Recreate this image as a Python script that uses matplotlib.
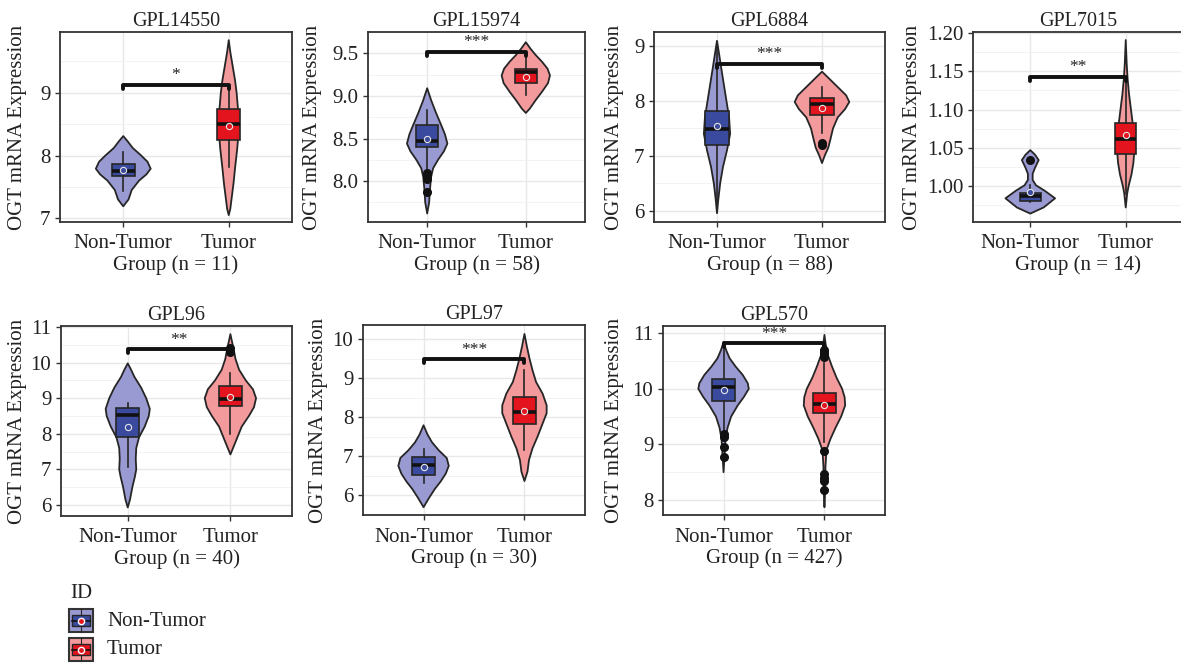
import numpy as np
import matplotlib.pyplot as plt
from matplotlib.patches import Rectangle
from matplotlib.ticker import AutoMinorLocator, FormatStrFormatter

plt.rcParams['font.family'] = ['Liberation Serif', 'DejaVu Serif']

W, H = 1181, 663

# ---------------- data ----------------
platforms = ["GPL14550", "GPL15974", "GPL6884", "GPL7015", "GPL96", "GPL97", "GPL570"]
sample_n = [11, 58, 88, 14, 40, 30, 427]
groups = ["Non-Tumor", "Tumor"]
signif = ["*", "***", "***", "**", "**", "***", "***"]
bracket_y = [9.13, 9.52, 8.67, 1.143, 10.37, 9.48, 10.82]

yticks = {
    "GPL14550": [7, 8, 9],
    "GPL15974": [8.0, 8.5, 9.0, 9.5],
    "GPL6884": [6, 7, 8, 9],
    "GPL7015": [1.00, 1.05, 1.10, 1.15, 1.20],
    "GPL96": [6, 7, 8, 9, 10, 11],
    "GPL97": [6, 7, 8, 9, 10],
    "GPL570": [8, 9, 10, 11],
}
yfmt = {"GPL15974": "%.1f", "GPL7015": "%.2f"}
ylims = {
    "GPL14550": (6.94, 9.97),
    "GPL15974": (7.52, 9.75),
    "GPL6884": (5.80, 9.25),
    "GPL7015": (0.953, 1.2015),
    "GPL96": (5.69, 11.03),
    "GPL97": (5.49, 10.36),
    "GPL570": (7.73, 11.13),
}

# violin outlines: expression levels and half widths (category units)
nt_violin_y = {
    "GPL14550": [7.19, 7.3, 7.45, 7.6, 7.7, 7.79, 7.9, 8.0, 8.12, 8.23, 8.31],
    "GPL15974": [7.62, 7.75, 7.9, 8.05, 8.15, 8.25, 8.35, 8.44, 8.55, 8.65, 8.8, 8.95, 9.09],
    "GPL6884": [5.96, 6.2, 6.5, 6.8, 7.1, 7.4, 7.7, 8.0, 8.3, 8.6, 8.85, 9.09],
    "GPL7015": [0.964, 0.972, 0.984, 0.994, 1.001, 1.008, 1.016, 1.024, 1.034, 1.041, 1.047],
    "GPL96": [5.93, 6.15, 6.5, 6.8, 7.0, 7.3, 7.6, 7.9, 8.2, 8.5, 8.7, 9.0, 9.3, 9.6, 9.8, 9.98],
    "GPL97": [5.69, 5.8, 5.95, 6.15, 6.35, 6.55, 6.75, 6.95, 7.15, 7.35, 7.55, 7.79],
    "GPL570": [8.5, 8.8, 9.1, 9.3, 9.5, 9.7, 9.85, 10.0, 10.1, 10.25, 10.4, 10.55, 10.7, 10.84],
}
nt_violin_w = {
    "GPL14550": [0, 0.05, 0.08, 0.15, 0.22, 0.26, 0.23, 0.17, 0.09, 0.04, 0],
    "GPL15974": [0, 0.02, 0.028, 0.04, 0.06, 0.11, 0.17, 0.205, 0.18, 0.145, 0.09, 0.04, 0],
    "GPL6884": [0, 0.012, 0.03, 0.057, 0.095, 0.125, 0.115, 0.09, 0.065, 0.04, 0.02, 0],
    "GPL7015": [0, 0.14, 0.26, 0.15, 0.06, 0.025, 0.025, 0.05, 0.088, 0.05, 0],
    "GPL96": [0, 0.022, 0.045, 0.07, 0.083, 0.078, 0.083, 0.11, 0.165, 0.205, 0.215, 0.18, 0.13, 0.065, 0.033, 0],
    "GPL97": [0, 0.025, 0.06, 0.11, 0.17, 0.22, 0.25, 0.23, 0.15, 0.085, 0.04, 0],
    "GPL570": [0, 0.01, 0.02, 0.04, 0.075, 0.14, 0.2, 0.25, 0.24, 0.19, 0.12, 0.06, 0.025, 0],
}
tu_violin_y = {
    "GPL14550": [7.05, 7.15, 7.35, 7.55, 7.8, 8.1, 8.4, 8.7, 9.0, 9.2, 9.45, 9.65, 9.84],
    "GPL15974": [8.80, 8.85, 8.95, 9.05, 9.15, 9.24, 9.32, 9.40, 9.48, 9.55, 9.63],
    "GPL6884": [6.87, 7.0, 7.15, 7.3, 7.5, 7.7, 7.85, 7.98, 8.1, 8.25, 8.4, 8.53],
    "GPL7015": [0.972, 0.99, 1.0, 1.015, 1.03, 1.045, 1.06, 1.075, 1.09, 1.105, 1.12, 1.14, 1.16, 1.191],
    "GPL96": [7.42, 7.7, 7.95, 8.2, 8.5, 8.75, 9.0, 9.25, 9.5, 9.8, 10.1, 10.4, 10.6, 10.8],
    "GPL97": [6.36, 6.6, 6.9, 7.2, 7.5, 7.8, 8.1, 8.3, 8.6, 8.9, 9.2, 9.5, 9.8, 10.13],
    "GPL570": [7.87, 8.2, 8.6, 8.9, 9.1, 9.3, 9.5, 9.7, 9.85, 10.0, 10.2, 10.4, 10.6, 10.8, 10.97],
}
tu_violin_w = {
    "GPL14550": [0, 0.015, 0.03, 0.045, 0.06, 0.08, 0.095, 0.09, 0.075, 0.06, 0.035, 0.015, 0],
    "GPL15974": [0, 0.04, 0.1, 0.165, 0.225, 0.245, 0.22, 0.165, 0.1, 0.05, 0],
    "GPL6884": [0, 0.025, 0.06, 0.08, 0.105, 0.15, 0.22, 0.26, 0.23, 0.15, 0.07, 0],
    "GPL7015": [0, 0.015, 0.03, 0.06, 0.08, 0.09, 0.09, 0.08, 0.065, 0.05, 0.035, 0.02, 0.01, 0],
    "GPL96": [0, 0.04, 0.075, 0.11, 0.18, 0.23, 0.25, 0.22, 0.15, 0.085, 0.05, 0.03, 0.015, 0],
    "GPL97": [0, 0.03, 0.045, 0.08, 0.13, 0.175, 0.22, 0.22, 0.18, 0.115, 0.08, 0.05, 0.025, 0],
    "GPL570": [0, 0.008, 0.01, 0.02, 0.06, 0.11, 0.165, 0.205, 0.2, 0.175, 0.12, 0.075, 0.035, 0.012, 0],
}

# box stats: q1, median, q3, whisker low, whisker high, mean
nt_box = {
    "GPL14550": [7.68, 7.76, 7.87, 7.44, 8.05, 7.77],
    "GPL15974": [8.40, 8.47, 8.66, 8.13, 8.83, 8.50],
    "GPL6884": [7.19, 7.49, 7.82, 5.98, 9.07, 7.54],
    "GPL7015": [0.981, 0.987, 0.9906, 0.979, 1.001, 0.992],
    "GPL96": [7.90, 8.52, 8.72, 7.06, 8.87, 8.20],
    "GPL97": [6.51, 6.77, 6.98, 6.30, 7.18, 6.72],
    "GPL570": [9.78, 10.03, 10.17, 9.25, 10.75, 9.97],
}
tu_box = {
    "GPL14550": [8.24, 8.50, 8.74, 7.82, 9.12, 8.47],
    "GPL15974": [9.15, 9.28, 9.32, 9.01, 9.50, 9.22],
    "GPL6884": [7.75, 7.94, 8.06, 7.41, 8.25, 7.87],
    "GPL7015": [1.042, 1.062, 1.082, 0.99, 1.14, 1.067],
    "GPL96": [8.77, 8.97, 9.34, 8.00, 9.70, 9.03],
    "GPL97": [7.82, 8.13, 8.52, 7.15, 9.20, 8.16],
    "GPL570": [9.56, 9.72, 9.93, 9.04, 10.46, 9.71],
}
nt_fliers = {
    "GPL14550": [], "GPL15974": [8.10, 8.06, 8.02, 7.87], "GPL6884": [],
    "GPL7015": [1.034], "GPL96": [], "GPL97": [],
    "GPL570": [9.18, 9.14, 8.96, 8.77],
}
tu_fliers = {
    "GPL14550": [], "GPL15974": [], "GPL6884": [7.23, 7.20],
    "GPL7015": [], "GPL96": [10.29, 10.4], "GPL97": [],
    "GPL570": [10.58, 10.62, 10.66, 10.70, 8.89, 8.47, 8.40, 8.35, 8.18],
}

# ---------------- layout (pixels) ----------------
panel_px = {
    "GPL14550": (60, 32, 292, 222),
    "GPL15974": (368, 32, 585, 222),
    "GPL6884": (654, 32, 885, 222),
    "GPL7015": (973, 32, 1183, 222),
    "GPL96": (61, 326, 292, 516),
    "GPL97": (363, 325, 585, 515),
    "GPL570": (663, 326, 885, 515),
}
xlims = {"GPL96": (0.35, 2.6)}
ylab_x_px = {"GPL14550": 18, "GPL15974": 313, "GPL6884": 615, "GPL7015": 913,
             "GPL96": 18, "GPL97": 318, "GPL570": 615}

violin_fill = ["#9a9ad2", "#f29a9c"]
box_fill = ["#3a4a9e", "#e3141e"]
edge = "#262626"

fig = plt.figure(figsize=(W / 100, H / 100), dpi=100)

for i, p in enumerate(platforms):
    l, t, r, b = panel_px[p]
    ax = fig.add_axes([l / W, 1 - b / H, (r - l) / W, (b - t) / H])
    ax.set_xlim(*xlims.get(p, (0.4, 2.6)))
    ax.set_ylim(*ylims[p])
    ax.set_axisbelow(True)

    vy = [nt_violin_y[p], tu_violin_y[p]]
    vw = [nt_violin_w[p], tu_violin_w[p]]
    boxes = [nt_box[p], tu_box[p]]
    fliers = [nt_fliers[p], tu_fliers[p]]
    for g in range(2):
        pos = g + 1
        y = np.array(vy[g])
        w = np.array(vw[g])
        ax.fill(np.concatenate([pos + w, (pos - w)[::-1]]),
                np.concatenate([y, y[::-1]]),
                facecolor=violin_fill[g], edgecolor=edge, lw=1.3,
                joinstyle="round", zorder=2)
        q1, med, q3, lo, hi, mean = boxes[g]
        stats = [dict(q1=q1, med=med, q3=q3, whislo=lo, whishi=hi,
                      mean=mean, fliers=fliers[g])]
        ax.bxp(stats, positions=[pos], widths=0.22, patch_artist=True,
               showcaps=False, showmeans=True, manage_ticks=False,
               boxprops=dict(facecolor=box_fill[g], edgecolor=edge, lw=1.2),
               medianprops=dict(color="#111111", lw=2.6),
               whiskerprops=dict(color=edge, lw=1.2),
               flierprops=dict(marker="o", markerfacecolor="#111111",
                               markeredgecolor="#111111", markersize=5.5),
               meanprops=dict(marker="o", markerfacecolor=box_fill[g],
                              markeredgecolor="#e6e6e6", markeredgewidth=0.8,
                              markersize=4.5),
               zorder=3)

    # significance bracket
    y0, y1 = ylims[p]
    tip = 4 * (y1 - y0) / (b - t)
    by = bracket_y[i]
    ax.plot([1, 1, 2, 2], [by - tip, by, by, by - tip], color="#111111",
            lw=2.8, solid_capstyle="round", solid_joinstyle="round", zorder=4)
    ax.annotate(signif[i], (1.5, by), xytext=(0, 7), textcoords="offset points",
                ha="center", va="center", fontsize=12.5, color="#222222", zorder=5)

    ax.set_xticks([1, 2])
    ax.set_xticklabels(groups)
    ax.set_yticks(yticks[p])
    if p in yfmt:
        ax.yaxis.set_major_formatter(FormatStrFormatter(yfmt[p]))
    ax.yaxis.set_minor_locator(AutoMinorLocator(2))
    ax.grid(which="major", color="#e8e8e8", lw=1.0)
    ax.grid(which="minor", axis="y", color="#f3f3f3", lw=0.7)
    ax.tick_params(which="minor", length=0)
    ax.tick_params(which="major", length=3.5, width=1.0, color="#333333",
                   labelsize=15, labelcolor="#222222", pad=3.5)
    ax.tick_params(axis="x", pad=5.5)
    for s in ax.spines.values():
        s.set_color("#333333")
        s.set_linewidth(1.3)

    ax.set_title(p, fontsize=14.5, color="#222222", pad=4)
    ax.set_xlabel(f"Group (n = {sample_n[i]})", fontsize=15, color="#222222")
    ax.xaxis.set_label_coords(0.5, -(265 - 222) / (b - t))
    ax.set_ylabel("OGT mRNA Expression", fontsize=15, color="#222222")
    ax.yaxis.set_label_coords((ylab_x_px[p] - l) / (r - l), 0.5)
    ax.xaxis.label.set_va("center")
    ax.yaxis.label.set_va("center")

# ---------------- legend ----------------
lg = fig.add_axes([0, 0, 1, 1], zorder=-1)
lg.set_xlim(0, W)
lg.set_ylim(H, 0)
lg.axis("off")
lg.text(70, 594, "ID", fontsize=15, color="#222222", ha="left", va="center")
for g, (name, ky) in enumerate(zip(groups, [609, 638])):
    lg.add_patch(Rectangle((69, ky), 24, 23, facecolor=violin_fill[g],
                           edgecolor="#333333", lw=1.5))
    lg.add_patch(Rectangle((72, ky + 6), 18, 11, facecolor=box_fill[g],
                           edgecolor=edge, lw=1.0))
    lg.plot([72, 90], [ky + 11.5, ky + 11.5], color="#111111", lw=1.2)
    lg.plot([81, 81], [ky, ky + 6], color=edge, lw=0.8)
    lg.plot([81, 81], [ky + 17, ky + 23], color=edge, lw=0.8)
    lg.plot([81], [ky + 11.5], marker="o", markersize=4.5, markerfacecolor="#e3141e",
            markeredgecolor="white", markeredgewidth=1.0)
    lg.text(107, ky + 12, name, fontsize=15, color="#222222", ha="left", va="center")

fig.savefig("out.png", dpi=100)
